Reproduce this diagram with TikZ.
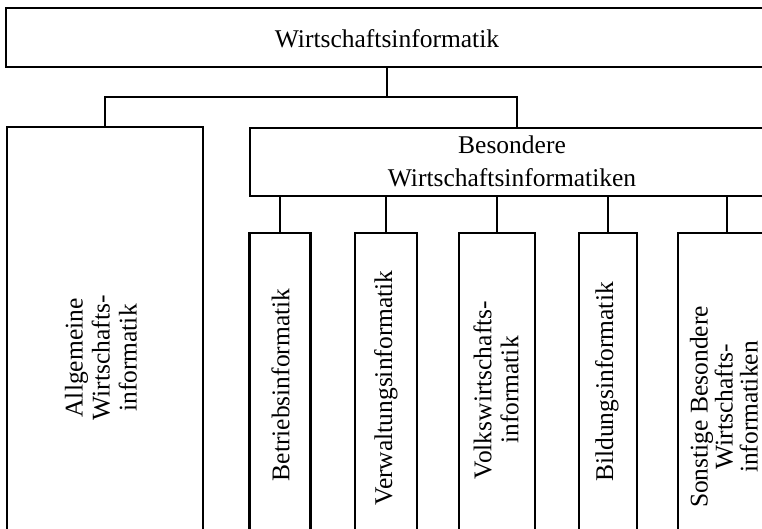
\documentclass[tikz,border=0pt]{standalone}
\usepackage{fontspec}
\setmainfont{Liberation Serif}
\begin{document}
\begin{tikzpicture}[x=1pt,y=-1pt,
  box/.style={draw, line width=2.2pt, inner sep=0pt},
  lbl/.style={font=\fontsize{25.5}{27}\selectfont, align=center, inner sep=0pt},
  vlbl/.style={lbl, rotate=90},
  conn/.style={line width=2.2pt}]
\useasboundingbox (0,0) rectangle (762,528);
\clip (0,0) rectangle (762,528);
% boxes
\node[box, minimum width=762pt, minimum height=59pt] (top) at (387,37.5) {};
\node[box, minimum width=196pt, minimum height=466pt] (left) at (105,360) {};
\node[box, minimum width=524pt, minimum height=68pt] (bes) at (512,162) {};
\node[box, minimum width=61pt, minimum height=310pt] (c1) at (280,388) {};
\node[box, minimum width=62pt, minimum height=310pt] (c2) at (386,388) {};
\node[box, minimum width=76pt, minimum height=310pt] (c3) at (497,388) {};
\node[box, minimum width=58pt, minimum height=310pt] (c4) at (608,388) {};
\node[box, minimum width=98pt, minimum height=310pt] (c5) at (727,388) {};
% texts
\node[lbl] (ttop) at (387,39) {Wirtschaftsinformatik};
\node[lbl, font=\fontsize{25.5}{33}\selectfont] (tbes) at (512,161) {Besondere\\Wirtschaftsinformatiken};
\node[vlbl] (tleft) at (101,358) {Allgemeine\\Wirtschafts-\\informatik};
\node[vlbl] (t1) at (280.5,385) {Betriebsinformatik};
\node[vlbl] (t2) at (386,388) {Verwaltungsinformatik};
\node[vlbl] (t3) at (496,390) {Volkswirtschafts-\\informatik};
\node[vlbl] (t4) at (607,382) {Bildungsinformatik};
\node[vlbl, font=\fontsize{25.5}{25}\selectfont] (t5) at (724,407) {Sonstige Besondere\\Wirtschafts-\\informatiken};
% connectors
\coordinate (j1) at (387,97);
\draw[conn] (top.south) -- (j1);
\draw[conn] (left.north) |- (j1) -| ([xshift=5pt]bes.north);
\foreach \c in {c1,c2,c3,c4,c5}
  \draw[conn] (\c.north) -- (\c.north |- bes.south);
\end{tikzpicture}
\end{document}
